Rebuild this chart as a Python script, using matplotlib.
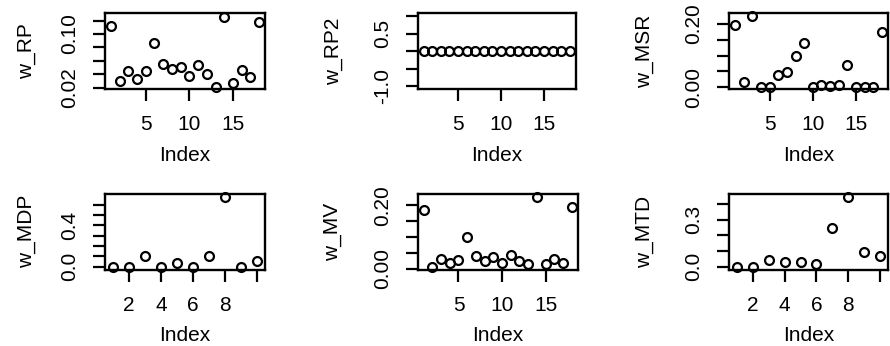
import numpy as np
import matplotlib
matplotlib.use("Agg")
import matplotlib.pyplot as plt

plt.rcParams["font.family"] = ["Liberation Sans", "DejaVu Sans"]
plt.rcParams["font.size"] = 15

# weights
w_RP = [0.1125, 0.030, 0.0454, 0.033, 0.0454, 0.087, 0.056, 0.048, 0.051,
        0.038, 0.054, 0.041, 0.0205, 0.126, 0.0265, 0.046, 0.0354, 0.1185]
w_RP2 = [0.0] * 18
w_MSR = [0.197, 0.018, 0.223, 0.0, 0.0, 0.039, 0.049, 0.0995, 0.141,
         0.0, 0.007, 0.003, 0.007, 0.071, 0.0, 0.0, 0.0, 0.174]
w_MDP = [0.0, 0.0, 0.104, 0.0, 0.032, 0.0, 0.104, 0.672, 0.0, 0.052]
w_MV = [0.184, 0.007, 0.031, 0.018, 0.029, 0.100, 0.041, 0.023, 0.037,
        0.018, 0.042, 0.025, 0.014, 0.226, 0.014, 0.031, 0.018, 0.195]
w_MTD = [0.0, 0.0, 0.043, 0.032, 0.032, 0.015, 0.246, 0.448, 0.091, 0.069]

# (name, values, yticks, shown labels, ylim, box rect in pixels)
panels = [
    ("w_RP", w_RP, [0.02, 0.04, 0.06, 0.08, 0.10, 0.12], {0.02: "0.02", 0.10: "0.10"},
     (0.0175, 0.131), (105, 13.3, 160, 76)),
    ("w_RP2", w_RP2, [-1.0, -0.5, 0.0, 0.5, 1.0], {-1.0: "-1.0", 0.5: "0.5"},
     (-1.08, 1.08), (417.7, 13.3, 158, 76)),
    ("w_MSR", w_MSR, [0.0, 0.05, 0.10, 0.15, 0.20], {0.0: "0.00", 0.20: "0.20"},
     (-0.006, 0.233), (729, 13.3, 159, 76)),
    ("w_MDP", w_MDP, [0.0, 0.1, 0.2, 0.3, 0.4, 0.5, 0.6], {0.0: "0.0", 0.4: "0.4"},
     (-0.03, 0.705), (105, 193.7, 160, 76)),
    ("w_MV", w_MV, [0.0, 0.05, 0.10, 0.15, 0.20], {0.0: "0.00", 0.20: "0.20"},
     (-0.003, 0.237), (417.7, 193.7, 160, 76)),
    ("w_MTD", w_MTD, [0.0, 0.1, 0.2, 0.3, 0.4], {0.0: "0.0", 0.3: "0.3"},
     (-0.02, 0.468), (729, 193.7, 159, 76)),
]

W, H = 890, 346
fig = plt.figure(figsize=(W / 100, H / 100), dpi=100)

for i, (name, vals, yt, ylab, ylim, (px, py, pw, ph)) in enumerate(panels):
    ax = fig.add_axes([px / W, 1 - (py + ph) / H, pw / W, ph / H])
    n = len(vals)
    x = np.arange(1, n + 1)
    ax.plot(x, vals, "o", mfc="none", mec="black", ms=6.4, mew=1.6, clip_on=False)
    if n > 10:
        ax.set_xlim(1 - 0.04 * (n - 1), n + 0.04 * (n - 1))
        ax.set_xticks([5, 10, 15])
        ax.set_xticklabels(["5", "10", "15"])
    else:
        ax.set_xlim(0.52, 10.48)
        ax.set_xticks([2, 4, 6, 8, 10])
        ax.set_xticklabels(["2", "4", "6", "8", ""])
    ax.set_ylim(*ylim)
    ax.set_yticks(yt)
    ax.set_yticklabels([ylab.get(v, "") for v in yt], rotation=90, va="center")
    ax.tick_params(direction="out", length=8.6, width=1.6, pad=10)
    for s in ax.spines.values():
        s.set_linewidth(1.7)
    ax.set_xlabel("Index", va="center")
    ax.xaxis.set_label_coords(0.5, -0.87)
    ax.set_ylabel(name, va="center")
    ax.yaxis.set_label_coords(-0.49 if i % 3 == 0 else -0.53, 0.5)

fig.savefig("out.png", dpi=100)
